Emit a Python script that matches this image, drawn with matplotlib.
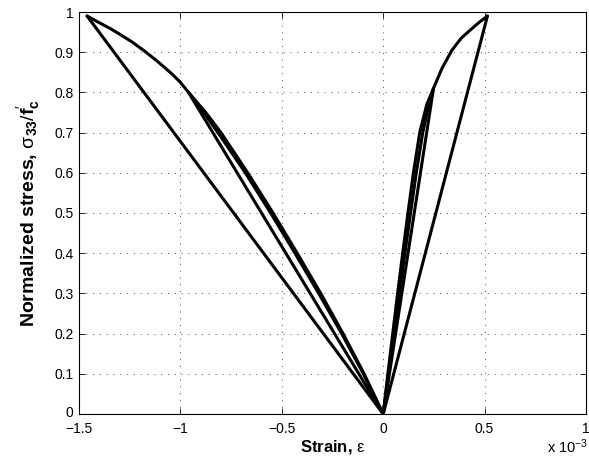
import numpy as np
import matplotlib
matplotlib.use("Agg")
import matplotlib.pyplot as plt
from matplotlib.transforms import ScaledTranslation

# strain values are in units of 1e-3, stress normalised by f'c
# compression side
env_c_x = [0, -0.098, -0.205, -0.318, -0.435, -0.555, -0.68, -0.815, -0.885, -0.96,
           -1.00, -1.04, -1.08, -1.12, -1.18, -1.24, -1.30, -1.35, -1.41, -1.46]
env_c_y = [0, 0.10, 0.20, 0.30, 0.40, 0.50, 0.60, 0.70, 0.75, 0.80,
           0.825, 0.845, 0.863, 0.88, 0.904, 0.926, 0.945, 0.96, 0.976, 0.99]
unl_c_x = [-0.96, 0]
unl_c_y = [0.80, 0]
rel_c_x = [0, -0.094, -0.198, -0.308, -0.424, -0.543, -0.668, -0.80, -0.875, -0.96]
rel_c_y = [0, 0.10, 0.20, 0.30, 0.40, 0.50, 0.60, 0.70, 0.75, 0.80]
peak_c_x = [-1.46, 0]
peak_c_y = [0.99, 0]

# tension side
env_t_x = [0, 0.023, 0.047, 0.071, 0.096, 0.122, 0.149, 0.18, 0.215, 0.248,
           0.29, 0.339, 0.385, 0.429, 0.475, 0.514]
env_t_y = [0, 0.10, 0.20, 0.30, 0.40, 0.50, 0.60, 0.70, 0.77, 0.81,
           0.86, 0.905, 0.935, 0.955, 0.975, 0.99]
unl_t_x = [0.248, 0]
unl_t_y = [0.81, 0]
rel_t_x = [0, 0.026, 0.053, 0.08, 0.107, 0.135, 0.163, 0.195, 0.225, 0.248]
rel_t_y = [0, 0.10, 0.20, 0.30, 0.40, 0.50, 0.60, 0.70, 0.77, 0.81]
peak_t_x = [0.514, 0]
peak_t_y = [0.99, 0]

xticks = [-1.5, -1, -0.5, 0, 0.5, 1]
xtick_labels = ["\u22121.5", "\u22121", "\u22120.5", "0", "0.5", "1"]
yticks = [0, 0.1, 0.2, 0.3, 0.4, 0.5, 0.6, 0.7, 0.8, 0.9, 1]
ytick_labels = ["0", "0.1", "0.2", "0.3", "0.4", "0.5", "0.6", "0.7", "0.8", "0.9", "1"]

plt.rcParams["font.family"] = ["Liberation Sans", "DejaVu Sans"]
plt.rcParams["mathtext.fontset"] = "custom"
plt.rcParams["mathtext.rm"] = "Liberation Sans"
plt.rcParams["mathtext.it"] = "Liberation Sans:italic"
plt.rcParams["mathtext.bf"] = "Liberation Sans:bold"

fig = plt.figure(figsize=(5.89, 4.63), dpi=100)
ax = fig.add_axes([79 / 589, 49 / 463, 507 / 589, 402 / 463])

branches = [(env_c_x, env_c_y), (unl_c_x, unl_c_y), (rel_c_x, rel_c_y),
            (peak_c_x, peak_c_y), (env_t_x, env_t_y), (unl_t_x, unl_t_y),
            (rel_t_x, rel_t_y), (peak_t_x, peak_t_y)]
for bx, by in branches:
    ax.plot(bx, by, "k-", lw=2.2, solid_joinstyle="round", solid_capstyle="round")

ax.set_xlim(-1.5, 1)
ax.set_ylim(0, 1)
ax.set_xticks(xticks)
ax.set_xticklabels(xtick_labels)
ax.set_yticks(yticks)
ax.set_yticklabels(ytick_labels)
ax.tick_params(direction="in", top=True, right=True, length=4, width=0.6,
               labelsize=10, pad=4)
ax.tick_params(axis="x", pad=6)
ax.grid(True, color="0.3", linestyle=(0, (1, 6)), lw=0.7)
for s in ax.spines.values():
    s.set_linewidth(0.8)

# nudge the y "0" label up a touch so it sits above the -1.5 label, as in MATLAB
lbl0 = ax.get_yticklabels()[0]
lbl0.set_transform(lbl0.get_transform() + ScaledTranslation(0, 2 / 72, fig.dpi_scale_trans))

ax.set_xlabel(r"Strain, $\mathrm{\varepsilon}$", fontsize=12, fontweight="bold", labelpad=1)
ax.set_ylabel(r"Normalized stress, $\mathrm{\sigma}_{\mathbf{33}}/\mathbf{f}^{\prime}_{\mathbf{c}}$",
              fontsize=14, fontweight="bold", labelpad=9)
fig.text(0.998, 0.022, r"x 10$^{\mathrm{-3}}$", ha="right", va="baseline", fontsize=10.5)

fig.savefig("out.png", dpi=100)
